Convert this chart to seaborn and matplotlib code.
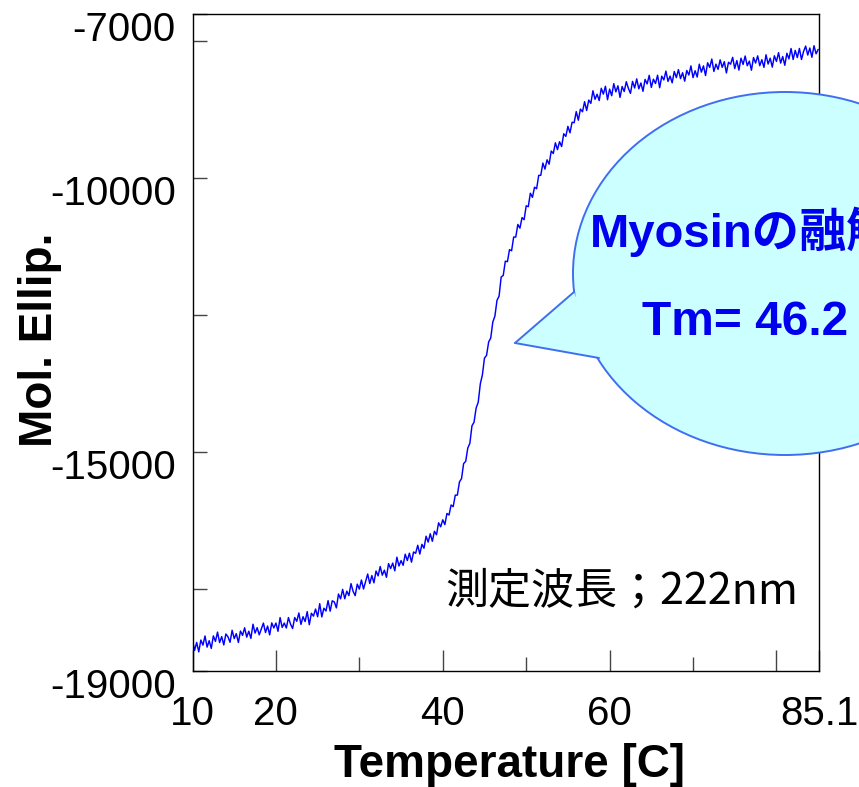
import numpy as np
import pandas as pd
import matplotlib
matplotlib.use("Agg")
import matplotlib.pyplot as plt
import matplotlib.transforms as mtransforms
from matplotlib.patches import Ellipse, Polygon
from matplotlib.lines import Line2D
import seaborn as sns

# ---------------- data ----------------
temperature = [
    10.0, 10.25, 10.5, 10.75, 11.0, 11.25, 11.5, 11.75, 12.0, 12.25, 12.5, 12.75,
    13.0, 13.25, 13.5, 13.75, 14.0, 14.25, 14.5, 14.75, 15.0, 15.25, 15.5, 15.75,
    16.0, 16.25, 16.5, 16.75, 17.0, 17.25, 17.5, 17.75, 18.0, 18.25, 18.5, 18.75,
    19.0, 19.25, 19.5, 19.75, 20.0, 20.25, 20.5, 20.75, 21.0, 21.25, 21.5, 21.75,
    22.0, 22.25, 22.5, 22.75, 23.0, 23.25, 23.5, 23.75, 24.0, 24.25, 24.5, 24.75,
    25.0, 25.25, 25.5, 25.75, 26.0, 26.25, 26.5, 26.75, 27.0, 27.25, 27.5, 27.75,
    28.0, 28.25, 28.5, 28.75, 29.0, 29.25, 29.5, 29.75, 30.0, 30.25, 30.5, 30.75,
    31.0, 31.25, 31.5, 31.75, 32.0, 32.25, 32.5, 32.75, 33.0, 33.25, 33.5, 33.75,
    34.0, 34.25, 34.5, 34.75, 35.0, 35.25, 35.5, 35.75, 36.0, 36.25, 36.5, 36.75,
    37.0, 37.25, 37.5, 37.75, 38.0, 38.25, 38.5, 38.75, 39.0, 39.25, 39.5, 39.75,
    40.0, 40.25, 40.5, 40.75, 41.0, 41.25, 41.5, 41.75, 42.0, 42.25, 42.5, 42.75,
    43.0, 43.25, 43.5, 43.75, 44.0, 44.25, 44.5, 44.75, 45.0, 45.25, 45.5, 45.75,
    46.0, 46.25, 46.5, 46.75, 47.0, 47.25, 47.5, 47.75, 48.0, 48.25, 48.5, 48.75,
    49.0, 49.25, 49.5, 49.75, 50.0, 50.25, 50.5, 50.75, 51.0, 51.25, 51.5, 51.75,
    52.0, 52.25, 52.5, 52.75, 53.0, 53.25, 53.5, 53.75, 54.0, 54.25, 54.5, 54.75,
    55.0, 55.25, 55.5, 55.75, 56.0, 56.25, 56.5, 56.75, 57.0, 57.25, 57.5, 57.75,
    58.0, 58.25, 58.5, 58.75, 59.0, 59.25, 59.5, 59.75, 60.0, 60.25, 60.5, 60.75,
    61.0, 61.25, 61.5, 61.75, 62.0, 62.25, 62.5, 62.75, 63.0, 63.25, 63.5, 63.75,
    64.0, 64.25, 64.5, 64.75, 65.0, 65.25, 65.5, 65.75, 66.0, 66.25, 66.5, 66.75,
    67.0, 67.25, 67.5, 67.75, 68.0, 68.25, 68.5, 68.75, 69.0, 69.25, 69.5, 69.75,
    70.0, 70.25, 70.5, 70.75, 71.0, 71.25, 71.5, 71.75, 72.0, 72.25, 72.5, 72.75,
    73.0, 73.25, 73.5, 73.75, 74.0, 74.25, 74.5, 74.75, 75.0, 75.25, 75.5, 75.75,
    76.0, 76.25, 76.5, 76.75, 77.0, 77.25, 77.5, 77.75, 78.0, 78.25, 78.5, 78.75,
    79.0, 79.25, 79.5, 79.75, 80.0, 80.25, 80.5, 80.75, 81.0, 81.25, 81.5, 81.75,
    82.0, 82.25, 82.5, 82.75, 83.0, 83.25, 83.5, 83.75, 84.0, 84.25, 84.5, 84.75,
    85.0,
]

mol_ellip = [
    -18440, -18624, -18478, -18651, -18435, -18528, -18361, -18564, -18447, -18588, -18359, -18460,
    -18290, -18481, -18372, -18524, -18325, -18376, -18476, -18257, -18408, -18319, -18479, -18270,
    -18350, -18211, -18382, -18274, -18405, -18146, -18308, -18209, -18340, -18233, -18125, -18298,
    -18180, -18341, -18122, -18214, -18125, -18275, -18025, -18205, -18125, -18215, -18025, -18145,
    -18225, -18024, -18093, -17941, -18150, -18009, -18098, -17916, -18155, -17946, -17998, -17869,
    -18010, -17771, -18013, -17854, -17905, -17716, -17908, -17719, -17740, -17848, -17595, -17683,
    -17510, -17681, -17543, -17624, -17405, -17545, -17625, -17415, -17505, -17339, -17503, -17366,
    -17230, -17404, -17258, -17391, -17175, -17264, -17093, -17251, -17160, -17290, -17040, -17130,
    -17030, -17171, -16923, -17084, -16985, -17071, -16868, -16984, -16850, -17014, -16828, -16851,
    -16705, -16866, -16688, -16759, -16540, -16648, -16495, -16633, -16450, -16513, -16295, -16368,
    -16240, -16328, -16125, -16153, -15970, -16000, -15790, -15790, -15550, -15488, -15215, -15173,
    -14930, -14843, -14525, -14458, -14200, -14095, -13760, -13595, -13290, -13238, -12995, -12923,
    -12630, -12523, -12235, -12158, -11810, -11780, -11520, -11530, -11310, -11330, -11080, -11080,
    -10850, -10918, -10725, -10763, -10510, -10525, -10280, -10355, -10170, -10198, -9955, -9953,
    -9730, -9840, -9670, -9750, -9510, -9555, -9360, -9485, -9340, -9428, -9195, -9243,
    -9060, -9178, -8985, -8993, -8790, -8948, -8745, -8793, -8610, -8770, -8580, -8640,
    -8410, -8566, -8473, -8589, -8365, -8471, -8328, -8574, -8380, -8500, -8280, -8430,
    -8320, -8531, -8333, -8424, -8245, -8366, -8458, -8239, -8360, -8193, -8375, -8268,
    -8420, -8203, -8285, -8128, -8350, -8199, -8278, -8126, -8355, -8144, -8213, -8051,
    -8240, -8143, -8265, -8058, -8170, -8024, -8188, -8081, -8235, -8039, -8123, -7956,
    -8170, -8045, -8160, -7925, -8070, -7956, -8133, -7899, -7985, -7831, -8058, -7924,
    -8020, -7846, -7983, -7879, -8085, -7890, -7925, -7800, -8005, -7859, -8033, -7816,
    -7930, -7776, -7953, -7869, -8035, -7804, -7904, -7773, -7953, -7843, -7983, -7753,
    -7923, -7816, -7979, -7772, -7875, -7715, -7905, -7785, -7945, -7726, -7828, -7639,
    -7840, -7673, -7805, -7638, -7840, -7693, -7595, -7758, -7630, -7799, -7588, -7736,
    -7655,
]

x_major_ticks = [10, 20, 40, 60, 80, 85.1]
x_major_labels = ["10", "20", "40", "60", "", "85.1"]
x_minor_ticks = [30, 50, 70]
y_ticks = [-19000, -17500, -15000, -12500, -10000, -7500, -7000]
y_tick_labels = ["-19000", "", "-15000", "", "-10000", "", "-7000"]

x_label = "Temperature [C]"
y_label = "Mol. Ellip."
bubble_line1 = "Myosinの融解温度"
bubble_line2 = "Tm= 46.2 ℃"
wavelength_note = "測定波長；222nm"

df = pd.DataFrame({"Temperature": temperature, "MolEllip": mol_ellip})

# ---------------- style ----------------
sns.set_style("white")
plt.rcParams["font.family"] = ["Liberation Sans", "Noto Sans CJK JP", "DejaVu Sans"]
plt.rcParams["text.color"] = "black"
plt.rcParams["xtick.color"] = "black"
plt.rcParams["ytick.color"] = "black"
plt.rcParams["axes.labelcolor"] = "black"

W, H = 859, 787
fig = plt.figure(figsize=(W / 100, H / 100), dpi=100)
fig.patch.set_facecolor("white")

L, R, T, B = 192.5, 819, 13.5, 671
ax = fig.add_axes([L / W, 1 - B / H, (R - L) / W, (B - T) / H])

sns.lineplot(data=df, x="Temperature", y="MolEllip", color="#0000FF",
             linewidth=1.05, ax=ax, estimator=None, sort=False)

ax.set_xlim(10, 85.1)
ax.set_ylim(-19000, -7000)
ax.set_xlabel("")
ax.set_ylabel("")

for s in ax.spines.values():
    s.set_color("black")
    s.set_linewidth(1.0)

ax.set_xticks(x_major_ticks)
ax.set_xticklabels(x_major_labels)
ax.set_xticks(x_minor_ticks, minor=True)
ax.set_yticks(y_ticks)
ax.set_yticklabels(y_tick_labels)

ax.tick_params(axis="x", which="major", direction="in", length=15, width=1,
               color="#444444", labelcolor="black", labelsize=29, pad=17, bottom=True)
ax.tick_params(axis="x", which="minor", direction="in", length=10, width=1,
               color="#444444", bottom=True)
ax.tick_params(axis="y", which="major", direction="in", length=10, width=1,
               color="#444444", labelcolor="black", labelsize=29, pad=12, left=True)

offset = mtransforms.ScaledTranslation(0, -0.12, fig.dpi_scale_trans)
for lab in ax.get_yticklabels():
    lab.set_transform(lab.get_transform() + offset)

# axis titles
fig.text(510 / W, 1 - 777 / H, x_label, ha="center", va="baseline",
         fontsize=33, fontweight="bold", color="black")
fig.text(40 / W, 1 - 340 / H, y_label, ha="center", va="center",
         rotation=90, fontsize=33, fontweight="bold", color="black")

# wavelength note
fig.text(445 / W, 1 - 604 / H, wavelength_note, ha="left", va="baseline",
         fontsize=31, color="black", family=["Noto Sans CJK JP", "DejaVu Sans"])

# speech bubble (figure pixel coordinates converted to fractions)
def fx(x):
    return x / W

def fy(y):
    return 1 - y / H

face = "#CCFFFF"
edge = "#3F6FF0"
ell = Ellipse((fx(785), fy(273.5)), width=2 * 212 / W, height=2 * 181.5 / H,
              transform=fig.transFigure, facecolor=face, edgecolor=edge,
              linewidth=1.4, zorder=5)
fig.patches.append(ell)
tri = Polygon([(fx(515), fy(343)), (fx(574), fy(292)), (fx(599), fy(358))],
              closed=True, transform=fig.transFigure, facecolor=face,
              edgecolor="none", zorder=6)
fig.patches.append(tri)
for (bx, by) in [(574, 292), (599, 358)]:
    fig.lines.append(Line2D([fx(515), fx(bx)], [fy(343), fy(by)],
                            transform=fig.transFigure, color=edge,
                            linewidth=1.4, zorder=7))

fig.text(590 / W, 1 - 247 / H, bubble_line1, ha="left", va="baseline",
         fontsize=34, fontweight="bold", color="#0000EE", zorder=8,
         family=["Liberation Sans", "Noto Sans CJK JP"])
fig.text(642 / W, 1 - 335 / H, bubble_line2, ha="left", va="baseline",
         fontsize=34.5, fontweight="bold", color="#0000EE", zorder=8,
         family=["Liberation Sans", "Noto Sans CJK JP"])

fig.savefig("out.png", dpi=100)
